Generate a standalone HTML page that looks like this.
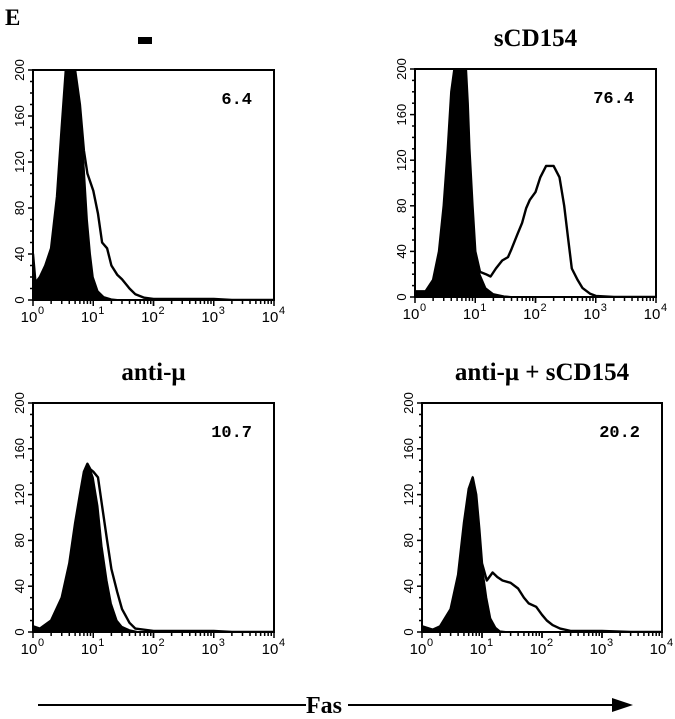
<!DOCTYPE html>
<html><head><meta charset="utf-8"><style>
html,body{margin:0;padding:0;background:#fff;}
svg{display:block;}
</style></head><body>
<svg id="fig" width="675" height="719" viewBox="0 0 675 719" xmlns="http://www.w3.org/2000/svg">
<text x="5" y="25" font-family="Liberation Serif, serif" font-weight="bold" font-size="23">E</text>
<line x1="38" y1="705" x2="306" y2="705" stroke="#000" stroke-width="2"/>
<text x="306" y="713" font-family="Liberation Serif, serif" font-weight="bold" font-size="24">Fas</text>
<line x1="348" y1="705" x2="615" y2="705" stroke="#000" stroke-width="2"/>
<polygon points="612,698 633,705 612,712" fill="#000"/>
<rect x="138" y="37" width="14" height="7" fill="#000"/>
</svg>
<script>
// Panel 1: "-"
const p1FilledX=[1,1.1,1.3,1.6,2,2.5,3,3.5,4,5,6,7,8,9,10,12,15,20,30,50];
const p1FilledY=[40,15,20,30,45,90,150,200,200,200,170,120,70,40,20,8,3,1,0,0];
const p1OpenX=[1,1.1,1.3,1.6,2,2.5,3,3.5,4,5,6,7,8,10,12,14,17,20,25,30,40,50,70,100,1000,2000,10000];
const p1OpenY=[40,15,20,30,45,90,150,200,200,200,170,130,110,95,75,50,45,30,22,18,10,5,2,1,1,0,0];
// Panel 2: sCD154
const p2FilledX=[1,1.5,2,2.5,3,3.5,4,4.5,5,7,7.5,8,9,10,12,15,20,30,50];
const p2FilledY=[5,5,15,40,80,130,180,200,200,200,170,130,80,40,20,8,3,1,0];
const p2OpenX=[1,1.5,2,2.5,3,3.5,4,4.5,5,7,7.5,8,9,10,12,15,18,22,28,35,40,50,60,70,80,100,120,150,200,250,300,350,400,500,600,800,1000,2000,10000];
const p2OpenY=[5,5,15,40,80,130,180,200,200,200,170,130,80,40,22,20,18,25,32,35,42,55,65,78,85,92,105,115,115,105,80,50,25,15,8,3,1,0,0];
// Panel 3: anti-mu
const p3FilledX=[1,1.3,2,3,4,5,6,7,8,9,10,12,14,17,20,25,30,40,60];
const p3FilledY=[5,3,10,30,60,95,120,140,147,142,135,110,75,45,25,10,5,2,0];
const p3OpenX=[1,1.3,2,3,4,5,6,7,8,9,10,12,14,17,20,25,30,40,50,100,1000,2000,10000];
const p3OpenY=[5,3,10,30,60,95,120,140,147,142,140,135,110,80,55,35,20,8,3,1,1,0,0];
// Panel 4: anti-mu + sCD154
const p4FilledX=[1,1.5,2,3,4,5,6,7,8,9,10,12,14,17,20,30];
const p4FilledY=[5,2,5,20,50,95,125,135,120,90,60,30,12,4,1,0];
const p4OpenX=[1,1.5,2,3,4,5,6,7,8,9,10,12,15,18,22,30,40,50,60,80,100,120,150,200,300,1000,3000,10000];
const p4OpenY=[5,2,5,20,50,95,125,135,120,90,60,45,52,48,45,43,38,30,25,22,15,10,6,3,1,1,0,0];
const titles=["","sCD154","anti-\u03bc","anti-\u03bc + sCD154"];
const percents=["6.4","76.4","10.7","20.2"];
const yTicks=[0,40,80,120,160,200];
const xDecades=[0,1,2,3,4];

const NS="http://www.w3.org/2000/svg";
const svg=document.getElementById('fig');
function mk(tag,attrs,parent){const e=document.createElementNS(NS,tag);for(const k in attrs)e.setAttribute(k,attrs[k]);(parent||svg).appendChild(e);return e;}

const panels=[
 {L:33,T:70,W:241,H:230,fx:p1FilledX,fy:p1FilledY,ox:p1OpenX,oy:p1OpenY,name:'panel-control'},
 {L:415,T:69,W:241,H:228,fx:p2FilledX,fy:p2FilledY,ox:p2OpenX,oy:p2OpenY,name:'panel-scd154'},
 {L:33,T:403,W:241,H:229,fx:p3FilledX,fy:p3FilledY,ox:p3OpenX,oy:p3OpenY,name:'panel-anti-mu'},
 {L:422,T:403,W:240,H:229,fx:p4FilledX,fy:p4FilledY,ox:p4OpenX,oy:p4OpenY,name:'panel-anti-mu-scd154'}
];

panels.forEach((p,i)=>{
 const g=mk('g',{});
 
 
 const xs=v=>p.L+Math.log10(v)/4*p.W;
 const ys=v=>p.T+p.H-Math.min(v,200)/200*p.H;
 const clip=mk('clipPath',{id:'c'+i},g);
 mk('rect',{x:p.L,y:p.T,width:p.W,height:p.H},clip);
 function linePath(X,Y,close){
  let d='M'+xs(X[0]).toFixed(1)+','+ys(0).toFixed(1);
  for(let k=0;k<X.length;k++){
   d+=' L'+xs(X[k]).toFixed(1)+','+ys(Y[k]).toFixed(1);
  }
  if(close)d+=' L'+xs(X[X.length-1]).toFixed(1)+','+ys(0).toFixed(1)+' Z';
  return d;
 }
 const open=mk('path',{d:linePath(p.ox,p.oy,false),fill:'none',stroke:'#000','stroke-width':2.4,'stroke-linejoin':'round','clip-path':'url(#c'+i+')'},g);
 
 
 const fill=mk('path',{d:linePath(p.fx,p.fy,true),fill:'#000',stroke:'#000','stroke-width':1,'clip-path':'url(#c'+i+')'},g);
 
 
 const frame=mk('rect',{x:p.L,y:p.T,width:p.W,height:p.H,fill:'none',stroke:'#000','stroke-width':2},g);
 
 
 for(let v=0;v<=200;v+=10){
  const major=v%40===0;
  const t=mk('line',{x1:p.L-(major?5:3),x2:p.L,y1:ys(v),y2:ys(v),stroke:'#000','stroke-width':1.5},g);
  
  
 }
 yTicks.forEach(v=>{
  const y=ys(v), x=p.L-9;
  const t=mk('text',{x:x,y:y,'font-family':'Liberation Sans, sans-serif','font-size':13,'text-anchor':'middle',transform:'rotate(-90 '+x+' '+y+')'},g);
  t.textContent=v;
  
  
 });
 for(let d=0;d<4;d++){
  for(let m=1;m<=10;m++){
   const x=xs(m*Math.pow(10,d));
   const major=(m===1||m===10);
   const t=mk('line',{x1:x,x2:x,y1:p.T+p.H,y2:p.T+p.H+(major?6:4),stroke:'#000','stroke-width':1.5},g);
   
   
  }
 }
 xDecades.forEach(d=>{
  const x=xs(Math.pow(10,d));
  const t=mk('text',{x:x-4,y:p.T+p.H+22,'font-family':'Liberation Sans, sans-serif','font-size':15,'text-anchor':'middle'},g);
  t.textContent='10';
  
  
  const s=mk('text',{x:x+8,y:p.T+p.H+14,'font-family':'Liberation Sans, sans-serif','font-size':11,'text-anchor':'middle'},g);
  s.textContent=d;
  
  
 });
 const pct=mk('text',{x:p.L+p.W-22,y:p.T+34,'font-family':'Liberation Mono, monospace','font-weight':'bold','font-size':17,'text-anchor':'end'},g);
 pct.textContent=percents[i];
 
 
 if(titles[i]){
  const tt=mk('text',{x:p.L+p.W/2,y:p.T-23,'font-family':'Liberation Serif, serif','font-weight':'bold','font-size':25,'text-anchor':'middle'},g);
  tt.textContent=titles[i];
  
  
 }
});
</script>
</body></html>
